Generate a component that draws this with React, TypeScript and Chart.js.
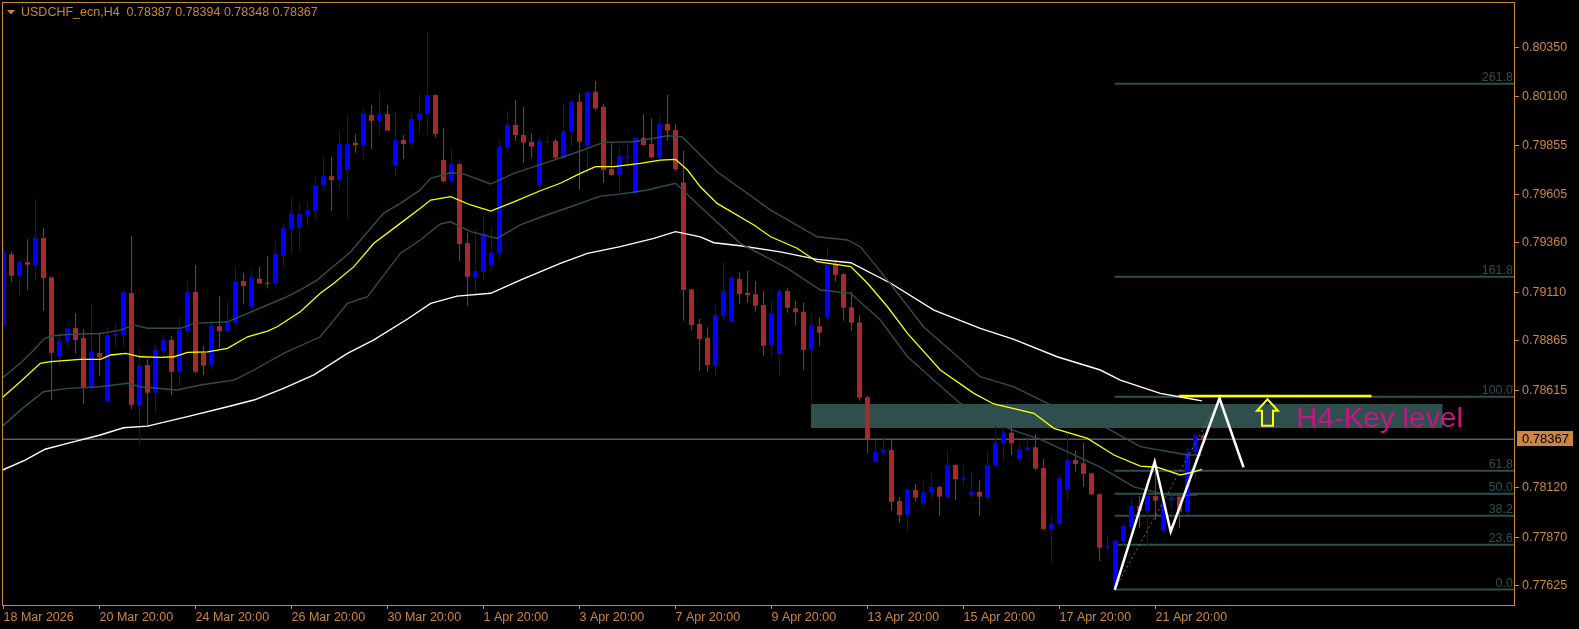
import React, { useEffect, useRef } from "react";
import { Chart, registerables } from "chart.js";

Chart.register(...registerables);

const symbolTitle = "USDCHF_ecn,H4";

// H4 candles (bar index = position)
const opens = [
  0.78941, 0.79302, 0.79194, 0.79263, 0.79245, 0.79385, 0.79186, 0.78784, 0.7886, 0.78929,
  0.78879, 0.78629, 0.78803, 0.78561, 0.78889, 0.78894, 0.79106, 0.78536, 0.78742, 0.78602,
  0.78813, 0.78869, 0.78708, 0.78914, 0.79111, 0.78804, 0.78742, 0.78939, 0.78914, 0.78956,
  0.79167, 0.79037, 0.79179, 0.79158, 0.79155, 0.79295, 0.7943, 0.79437, 0.79501, 0.79523,
  0.79649, 0.79698, 0.79678, 0.79729, 0.79867, 0.79855, 0.80007, 0.79978, 0.80012, 0.79751,
  0.79881, 0.79864, 0.79982, 0.80012, 0.80108, 0.79779, 0.79673, 0.79759, 0.79359, 0.79186,
  0.79214, 0.79245, 0.79307, 0.79844, 0.79957, 0.79906, 0.79872, 0.79653, 0.79871, 0.79876,
  0.79791, 0.79923, 0.80074, 0.79852, 0.80125, 0.80049, 0.79734, 0.79704, 0.79796, 0.79611,
  0.79892, 0.7986, 0.79793, 0.79962, 0.79931, 0.79665, 0.79125, 0.7895, 0.7888, 0.78739,
  0.78992, 0.78965, 0.79177, 0.79108, 0.79101, 0.79046, 0.7884, 0.78798, 0.79117, 0.79029,
  0.79012, 0.78821, 0.78939, 0.78982, 0.79248, 0.79202, 0.79034, 0.78958, 0.78579, 0.78253,
  0.78298, 0.78312, 0.78054, 0.77983, 0.7811, 0.78042, 0.78096, 0.78126, 0.78076, 0.78236,
  0.78164, 0.78084, 0.78101, 0.78071, 0.78233, 0.78346, 0.784, 0.78267, 0.78312, 0.78326,
  0.78221, 0.77912, 0.77938, 0.7811, 0.78261, 0.78245, 0.78194, 0.78089, 0.77821, 0.7762,
  0.77848, 0.77924, 0.78029, 0.78005, 0.78079, 0.77904, 0.78059, 0.78076, 0.78, 0.78303,
  0.78387,
];
const highs = [
  0.79358, 0.79315, 0.79273, 0.79378, 0.79582, 0.79435, 0.7919, 0.78902, 0.78939, 0.79004,
  0.78926, 0.79051, 0.78899, 0.78934, 0.78953, 0.79115, 0.79395, 0.78828, 0.78771, 0.78843,
  0.78894, 0.78889, 0.78978, 0.79167, 0.79248, 0.78838, 0.78966, 0.79091, 0.79061, 0.79243,
  0.79209, 0.79226, 0.7924, 0.79294, 0.79371, 0.79459, 0.79594, 0.79563, 0.79568, 0.79695,
  0.798, 0.79796, 0.79931, 0.80007, 0.79911, 0.80043, 0.80058, 0.8013, 0.80058, 0.80022,
  0.79906, 0.80021, 0.80113, 0.80426, 0.80112, 0.7994, 0.79839, 0.79763, 0.79414, 0.79429,
  0.79496, 0.79434, 0.79881, 0.80029, 0.80083, 0.80046, 0.79915, 0.79897, 0.79906, 0.79886,
  0.80063, 0.80083, 0.80117, 0.8013, 0.80179, 0.80066, 0.79864, 0.7985, 0.79872, 0.79895,
  0.80012, 0.7999, 0.80002, 0.80108, 0.79962, 0.79827, 0.79128, 0.78975, 0.78933, 0.79046,
  0.79262, 0.79194, 0.79211, 0.79218, 0.79167, 0.79117, 0.79066, 0.7913, 0.79133, 0.79066,
  0.79057, 0.79004, 0.78984, 0.79341, 0.79265, 0.79206, 0.79113, 0.78995, 0.78585, 0.78363,
  0.78379, 0.78363, 0.78076, 0.78126, 0.7814, 0.78157, 0.78197, 0.7813, 0.78312, 0.7824,
  0.78236, 0.78202, 0.7816, 0.78303, 0.78433, 0.7843, 0.78455, 0.78346, 0.78383, 0.78393,
  0.78265, 0.77983, 0.78186, 0.78393, 0.78309, 0.78346, 0.78197, 0.78092, 0.77882, 0.77857,
  0.77941, 0.78068, 0.78079, 0.78093, 0.78211, 0.78059, 0.78093, 0.78079, 0.78321, 0.78397,
  0.78394,
];
const lows = [
  0.78929, 0.79164, 0.79088, 0.79122, 0.79172, 0.79017, 0.78565, 0.78739, 0.78835, 0.78801,
  0.78545, 0.78616, 0.78686, 0.78558, 0.78835, 0.78835, 0.78518, 0.78337, 0.7843, 0.78501,
  0.78784, 0.7859, 0.78637, 0.78885, 0.787, 0.78692, 0.7872, 0.7883, 0.7891, 0.78936,
  0.79054, 0.79029, 0.79152, 0.7913, 0.79127, 0.79234, 0.79307, 0.7932, 0.79445, 0.79476,
  0.79624, 0.79523, 0.79628, 0.79481, 0.79816, 0.79785, 0.79835, 0.79906, 0.79925, 0.797,
  0.79785, 0.79847, 0.79911, 0.79906, 0.79894, 0.79667, 0.7967, 0.7927, 0.79042, 0.79105,
  0.79172, 0.79219, 0.79273, 0.79821, 0.79877, 0.79766, 0.79789, 0.79636, 0.79855, 0.79779,
  0.79789, 0.7985, 0.79628, 0.797, 0.80032, 0.79665, 0.797, 0.79607, 0.79751, 0.79608,
  0.79852, 0.79789, 0.79783, 0.79877, 0.79724, 0.78966, 0.78919, 0.78713, 0.78708, 0.78688,
  0.7897, 0.78962, 0.79051, 0.79057, 0.79012, 0.78789, 0.78784, 0.78688, 0.79007, 0.78941,
  0.78717, 0.7854, 0.78838, 0.78961, 0.79164, 0.78966, 0.78916, 0.78561, 0.78295, 0.78245,
  0.78282, 0.78005, 0.77944, 0.77899, 0.7805, 0.7802, 0.78063, 0.7798, 0.78063, 0.78059,
  0.7813, 0.78068, 0.7798, 0.78056, 0.78225, 0.78253, 0.78287, 0.78245, 0.78303, 0.78211,
  0.77908, 0.77742, 0.77932, 0.78056, 0.78202, 0.78126, 0.78084, 0.7775, 0.77786, 0.77604,
  0.77831, 0.77911, 0.77916, 0.77823, 0.77958, 0.77899, 0.78017, 0.77916, 0.77983, 0.7816,
  0.78348,
];
const closes = [
  0.79315, 0.79194, 0.79263, 0.7925, 0.79385, 0.79182, 0.78804, 0.78864, 0.78928, 0.78869,
  0.78629, 0.78808, 0.78783, 0.78894, 0.78899, 0.79111, 0.78541, 0.78742, 0.78602, 0.78818,
  0.78869, 0.78708, 0.78919, 0.79111, 0.78708, 0.78739, 0.78941, 0.78914, 0.78961, 0.79167,
  0.79142, 0.79186, 0.79155, 0.79153, 0.79304, 0.79435, 0.7951, 0.79506, 0.79526, 0.79653,
  0.797, 0.79678, 0.7986, 0.7986, 0.79855, 0.80016, 0.79978, 0.80012, 0.79928, 0.79881,
  0.7986, 0.79987, 0.80016, 0.80108, 0.79911, 0.79672, 0.79759, 0.79354, 0.79189, 0.79218,
  0.79408, 0.79312, 0.7985, 0.79957, 0.79906, 0.79867, 0.79847, 0.79876, 0.79876, 0.79791,
  0.79926, 0.80074, 0.79872, 0.80125, 0.80041, 0.79729, 0.79704, 0.798, 0.798, 0.79892,
  0.79855, 0.79793, 0.79962, 0.79928, 0.79734, 0.79122, 0.78945, 0.78874, 0.78742, 0.78995,
  0.79117, 0.79184, 0.79101, 0.79096, 0.79042, 0.7884, 0.79004, 0.79117, 0.79032, 0.79009,
  0.78818, 0.78945, 0.78906, 0.79248, 0.79198, 0.79032, 0.78956, 0.78577, 0.78366, 0.78303,
  0.78312, 0.7805, 0.77983, 0.7811, 0.78071, 0.78098, 0.78126, 0.78076, 0.78236, 0.78164,
  0.78172, 0.78101, 0.78076, 0.78236, 0.78349, 0.784, 0.78346, 0.78317, 0.78326, 0.78218,
  0.77912, 0.77941, 0.78169, 0.78261, 0.78241, 0.78191, 0.78088, 0.77818, 0.77826, 0.77855,
  0.77929, 0.78029, 0.78005, 0.78079, 0.78056, 0.7805, 0.78073, 0.78, 0.78303, 0.78387,
  0.78367,
];

// Moving average (yellow) and its envelope bands, slow MA (white): bar position / value
const maFastBars = [-0.1, 2.1, 4.6, 5.9, 9.6, 12.1, 13.4, 15.3, 17.1, 19.6, 21.3, 23, 25.5, 28, 30.5, 33, 34.2, 37.1, 39.6, 41.3, 43.8, 46.3, 49.6, 52.1, 53.4, 55.9, 58.4, 60.9, 63.8, 67.1, 69.6, 72.1, 74, 76.3, 79.6, 82.1, 84, 85.5, 87.1, 89.2, 93.8, 95.9, 99.2, 101.7, 105.9, 108, 110.5, 113, 117.1, 121.3, 123.8, 128.8, 131.3, 135.5, 138.8, 142.1, 144.2, 147.1, 148.8, 149.8];
const maFastValues = [0.78579, 0.78658, 0.78751, 0.78759, 0.78771, 0.78771, 0.78793, 0.78801, 0.78784, 0.78781, 0.78784, 0.78806, 0.78809, 0.78827, 0.78885, 0.78914, 0.78936, 0.79012, 0.79105, 0.79156, 0.7924, 0.79358, 0.79459, 0.79535, 0.79577, 0.79594, 0.79552, 0.79521, 0.79568, 0.79624, 0.79662, 0.79712, 0.79746, 0.79746, 0.79763, 0.79779, 0.79783, 0.79729, 0.79644, 0.7956, 0.79451, 0.79391, 0.79333, 0.79265, 0.7924, 0.79156, 0.79037, 0.78902, 0.78717, 0.78599, 0.78545, 0.78498, 0.78422, 0.78371, 0.78287, 0.78231, 0.78225, 0.78186, 0.78202, 0.78214];

const bandUpperBars = [-0.1, 2.1, 3.8, 5, 5.9, 8, 12.1, 14.6, 16.3, 18, 22.1, 23.8, 28, 30.5, 35, 37.1, 39.2, 43.4, 47.5, 49.6, 52.1, 53.4, 55.9, 57.5, 60.9, 63.8, 68.8, 72.1, 75, 78.8, 83, 84.8, 87.1, 89.2, 95.9, 101.7, 105.5, 107.1, 110.5, 115, 122.1, 126.3, 130.5, 138, 142.1, 148, 149.8];
const bandUpperValues = [0.78678, 0.78751, 0.78818, 0.78872, 0.78889, 0.78897, 0.78902, 0.78919, 0.78945, 0.78928, 0.78928, 0.78953, 0.78961, 0.79004, 0.7908, 0.79122, 0.79172, 0.79315, 0.7951, 0.7956, 0.79628, 0.79687, 0.79715, 0.79709, 0.79658, 0.79712, 0.79779, 0.79825, 0.79869, 0.79872, 0.79902, 0.79897, 0.79805, 0.7972, 0.79526, 0.79391, 0.79375, 0.79341, 0.79172, 0.78936, 0.78683, 0.78632, 0.78548, 0.78422, 0.78329, 0.78287, 0.78287];

const bandLowerBars = [-0.1, 2.1, 5, 8, 12.1, 15.5, 17.1, 21.7, 24.6, 28.8, 31.3, 35, 39.6, 43, 45.5, 49.6, 52.1, 54.6, 55.9, 58.4, 61.7, 64.6, 67.1, 70.9, 74.6, 77.1, 80.5, 84, 87.1, 92.1, 98, 102.1, 105.9, 109.6, 113, 117.1, 119.6, 125.9, 129.6, 133, 137.1, 141.3, 145.5, 149.2];
const bandLowerValues = [0.78433, 0.78514, 0.78607, 0.78624, 0.78632, 0.7865, 0.78632, 0.78616, 0.78641, 0.78666, 0.78717, 0.78801, 0.78885, 0.79054, 0.79088, 0.79307, 0.79375, 0.79456, 0.79467, 0.79417, 0.79383, 0.79451, 0.7949, 0.79543, 0.79597, 0.79607, 0.79628, 0.79662, 0.79543, 0.79358, 0.79231, 0.79122, 0.79105, 0.7897, 0.78784, 0.78636, 0.78548, 0.78417, 0.78366, 0.78303, 0.78226, 0.78126, 0.78084, 0.78084];

const maSlowBars = [-0.1, 2.7, 5.2, 8, 12.1, 15, 18, 23, 28, 31.3, 35, 38.8, 43, 46.3, 50.5, 53.4, 56.7, 60.9, 64.6, 69.6, 73, 77.1, 81.3, 84, 87.1, 88.8, 92.1, 97.1, 101.7, 105.9, 110.9, 116.3, 122.1, 126.3, 131.7, 137.1, 139.6, 144.6, 148, 149.8];
const maSlowValues = [0.78211, 0.78261, 0.78316, 0.78346, 0.78388, 0.78425, 0.78433, 0.78481, 0.78531, 0.78565, 0.78624, 0.78692, 0.78801, 0.78869, 0.78975, 0.79054, 0.79091, 0.79105, 0.79172, 0.79257, 0.79307, 0.79341, 0.79383, 0.79417, 0.79391, 0.79361, 0.79346, 0.79315, 0.79277, 0.7926, 0.79156, 0.7902, 0.78928, 0.78872, 0.78784, 0.78717, 0.78666, 0.78599, 0.78574, 0.78561];

// Fibonacci levels
const fibLevelLabels = ["0.0", "23.6", "38.2", "50.0", "61.8", "100.0", "161.8", "261.8"];
const fibPrices = [0.77606, 0.77833, 0.7798, 0.78091, 0.78207, 0.78582, 0.79189, 0.80165];
const fibStartBar = 138.9;
const fibTrendBars = [138.9, 152.2];
const fibTrendPrices = [0.77606, 0.78582];

// Projected zigzag path (white)
const zigzagBars = [138.9, 143.9, 145.9, 152, 155];
const zigzagPrices = [0.77604, 0.78253, 0.77899, 0.78574, 0.78225];

// Key level zone + yellow level line
const keyZoneBars = [100.9, 179.9];
const keyZonePrices = [0.78545, 0.78423];
const keyLineBars = [146.9, 171];
const keyLinePrice = 0.78586;
const keyLabelText = "H4-Key level";
const keyLabelBar = 161.6;
const keyLabelPrice = 0.78427;
const arrowBar = 158;
const arrowPrice = 0.78569;

// Axes
const yTickValues = [0.8035, 0.801, 0.79855, 0.79605, 0.7936, 0.7911, 0.78865, 0.78615, 0.7812, 0.7787, 0.77625];
const xTickBars = [0, 12, 24, 36, 48, 60, 72, 84, 96, 108, 120, 132, 144];
const xTickLabels = ["18 Mar 2026", "20 Mar 20:00", "24 Mar 20:00", "26 Mar 20:00", "30 Mar 20:00", "1 Apr 20:00", "3 Apr 20:00", "7 Apr 20:00", "9 Apr 20:00", "13 Apr 20:00", "15 Apr 20:00", "17 Apr 20:00", "21 Apr 20:00"];
const yMin = 0.77528;
const yMax = 0.80579;
const xMin = -0.1875;
const xMax = 188.8125;

const FONT = "'Liberation Sans', Arial, sans-serif";
const AXIS = "#CD853F";
const BULL = "#0000FF";
const BEAR = "#A52A2A";
const DSG = "#2F4F4F";
const PINK = "#C71585";

export default function App() {
  const ref = useRef<HTMLCanvasElement>(null);

  useEffect(() => {
    const canvas = ref.current;
    if (!canvas) return;
    const last = closes.length - 1;
    const candleColors = opens.map((o, i) => (closes[i] >= o ? BULL : BEAR));
    const wickData = opens.map((_, i) => ({ x: i, y: [lows[i], highs[i]] }));
    const bodyData = opens.map((o, i) => ({ x: i, y: [Math.min(o, closes[i]), Math.max(o, closes[i])] }));
    const pts = (bars: number[], vals: number[]) => bars.map((b, i) => ({ x: b, y: vals[i] }));
    const flat = (b0: number, b1: number, v: number) => [{ x: b0, y: v }, { x: b1, y: v }];
    const lineDs = (data: any[], color: string, width: number, order: number, extra: any = {}) => ({
      type: "line",
      data,
      borderColor: color,
      borderWidth: width,
      pointRadius: 0,
      pointHoverRadius: 0,
      tension: 0,
      fill: false,
      order,
      ...extra,
    });

    const overlay = {
      id: "overlay",
      afterDatasetsDraw(chart: any) {
        const { ctx, chartArea: a, scales } = chart;
        const x = scales.x;
        const y = scales.y;
        ctx.save();
        ctx.beginPath();
        ctx.rect(a.left, a.top, a.right - a.left, a.bottom - a.top);
        ctx.clip();
        // fib labels
        ctx.font = `12.5px ${FONT}`;
        ctx.fillStyle = DSG;
        ctx.textAlign = "right";
        ctx.textBaseline = "alphabetic";
        fibLevelLabels.forEach((t, i) => {
          ctx.fillText(t, a.right - 1, y.getPixelForValue(fibPrices[i]) - 2.5);
        });
        // key level text
        const kx = x.getPixelForValue(keyLabelBar);
        const ky = y.getPixelForValue(keyLabelPrice);
        ctx.save();
        ctx.translate(kx, ky);
        ctx.scale(1.05, 1);
        ctx.font = `28px ${FONT}`;
        ctx.fillStyle = PINK;
        ctx.textAlign = "left";
        ctx.fillText(keyLabelText, 0, 0);
        ctx.restore();
        // arrow
        const ax = x.getPixelForValue(arrowBar);
        const ay = y.getPixelForValue(arrowPrice);
        ctx.beginPath();
        ctx.moveTo(ax, ay);
        ctx.lineTo(ax + 10.5, ay + 11.5);
        ctx.lineTo(ax + 5.5, ay + 11.5);
        ctx.lineTo(ax + 5.5, ay + 26.5);
        ctx.lineTo(ax - 5.5, ay + 26.5);
        ctx.lineTo(ax - 5.5, ay + 11.5);
        ctx.lineTo(ax - 10.5, ay + 11.5);
        ctx.closePath();
        ctx.strokeStyle = "#FFFF00";
        ctx.lineWidth = 2;
        ctx.stroke();
        ctx.restore();
      },
      afterDraw(chart: any) {
        const { ctx, chartArea: a, scales } = chart;
        const y = scales.y;
        ctx.save();
        ctx.strokeStyle = AXIS;
        ctx.lineWidth = 1;
        ctx.strokeRect(a.left + 0.5, a.top + 0.5, a.right - a.left, a.bottom - a.top);
        // title
        ctx.fillStyle = AXIS;
        ctx.beginPath();
        ctx.moveTo(7, 10);
        ctx.lineTo(15, 10);
        ctx.lineTo(11, 14.5);
        ctx.closePath();
        ctx.fill();
        ctx.font = `12.5px ${FONT}`;
        ctx.textAlign = "left";
        ctx.textBaseline = "middle";
        const title = `${symbolTitle}  ${opens[last].toFixed(5)} ${highs[last].toFixed(5)} ${lows[last].toFixed(5)} ${closes[last].toFixed(5)}`;
        ctx.fillText(title, 21, 12.5);
        // current price tag
        const py = Math.round(y.getPixelForValue(closes[last]));
        ctx.fillStyle = AXIS;
        ctx.fillRect(a.right + 3, py - 8, 56, 15);
        ctx.fillStyle = "#000000";
        ctx.font = `13px ${FONT}`;
        ctx.fillText(closes[last].toFixed(5), a.right + 8, py);
        ctx.restore();
      },
    };

    const datasets: any[] = [
      lineDs(flat(keyZoneBars[0], keyZoneBars[1], keyZonePrices[0]), "rgba(0,0,0,0)", 1, 40, { fill: "+1", backgroundColor: DSG }),
      lineDs(flat(keyZoneBars[0], keyZoneBars[1], keyZonePrices[1]), "rgba(0,0,0,0)", 1, 39),
      ...fibPrices.map((p) => lineDs(flat(fibStartBar, xMax, p), DSG, 2, 38)),
      lineDs(flat(xMin, xMax, closes[last]), "#7F8A96", 1, 37),
      {
        type: "bar",
        data: wickData,
        backgroundColor: candleColors,
        borderWidth: 0,
        barThickness: 1,
        maxBarThickness: 1,
        barPercentage: 1,
        categoryPercentage: 1,
        grouped: false,
        inflateAmount: 0,
        order: 30,
      },
      {
        type: "bar",
        data: bodyData,
        backgroundColor: candleColors,
        borderWidth: 0,
        barThickness: 5,
        maxBarThickness: 5,
        barPercentage: 1,
        categoryPercentage: 1,
        grouped: false,
        inflateAmount: 0,
        minBarLength: 1,
        order: 29,
      },
      lineDs(pts(maSlowBars, maSlowValues), "#FFFFFF", 1.4, 20),
      lineDs(pts(bandUpperBars, bandUpperValues), DSG, 1.4, 19),
      lineDs(pts(bandLowerBars, bandLowerValues), DSG, 1.4, 18),
      lineDs(pts(maFastBars, maFastValues), "#FFFF00", 1.3, 17),
      lineDs(pts(fibTrendBars, fibTrendPrices), "#707070", 1, 10, { borderDash: [2, 3] }),
      lineDs(flat(keyLineBars[0], keyLineBars[1], keyLinePrice), "#FFFF00", 2.5, 9),
      lineDs(pts(zigzagBars, zigzagPrices), "#FFFFFF", 2.5, 8),
    ];

    const tickFont = { family: FONT, size: 12.5, lineHeight: 1 };

    const chart = new Chart(canvas, {
      type: "bar",
      data: { datasets },
      options: {
        responsive: false,
        animation: false,
        devicePixelRatio: 1,
        events: [],
        layout: { padding: { left: 2, top: 2, right: 0, bottom: 0 } },
        plugins: { legend: { display: false }, tooltip: { enabled: false } },
        scales: {
          x: {
            type: "linear",
            position: "bottom",
            min: xMin,
            max: xMax,
            offset: false,
            grid: { display: true, drawOnChartArea: false, drawTicks: true, tickLength: 4, color: AXIS, offset: false },
            border: { display: false },
            afterBuildTicks: (s: any) => {
              s.ticks = xTickBars.map((v) => ({ value: v }));
            },
            ticks: {
              autoSkip: false,
              maxRotation: 0,
              minRotation: 0,
              align: "start",
              color: AXIS,
              padding: 2,
              font: tickFont,
              callback: (_v: any, i: number) => xTickLabels[i],
            },
            afterFit: (s: any) => {
              s.height = 24;
              s.paddingLeft = 0;
              s.paddingRight = 0;
            },
          },
          y: {
            type: "linear",
            position: "right",
            min: yMin,
            max: yMax,
            beginAtZero: false,
            grid: { display: true, drawOnChartArea: false, drawTicks: true, tickLength: 5, color: AXIS },
            border: { display: false },
            afterBuildTicks: (s: any) => {
              s.ticks = yTickValues.map((v) => ({ value: v }));
            },
            ticks: {
              color: AXIS,
              padding: 3,
              font: tickFont,
              callback: (v: any) => Number(v).toFixed(5),
            },
            afterFit: (s: any) => {
              s.width = 65;
              s.paddingTop = 0;
              s.paddingBottom = 0;
            },
          },
        },
      } as any,
      plugins: [overlay],
    } as any);

    return () => chart.destroy();
  }, []);

  return (
    <div style={{ position: "fixed", left: 0, top: 0, width: 1579, height: 629, background: "#000000", overflow: "hidden" }}>
      <canvas ref={ref} width={1579} height={629} style={{ display: "block", width: 1579, height: 629 }} />
    </div>
  );
}
